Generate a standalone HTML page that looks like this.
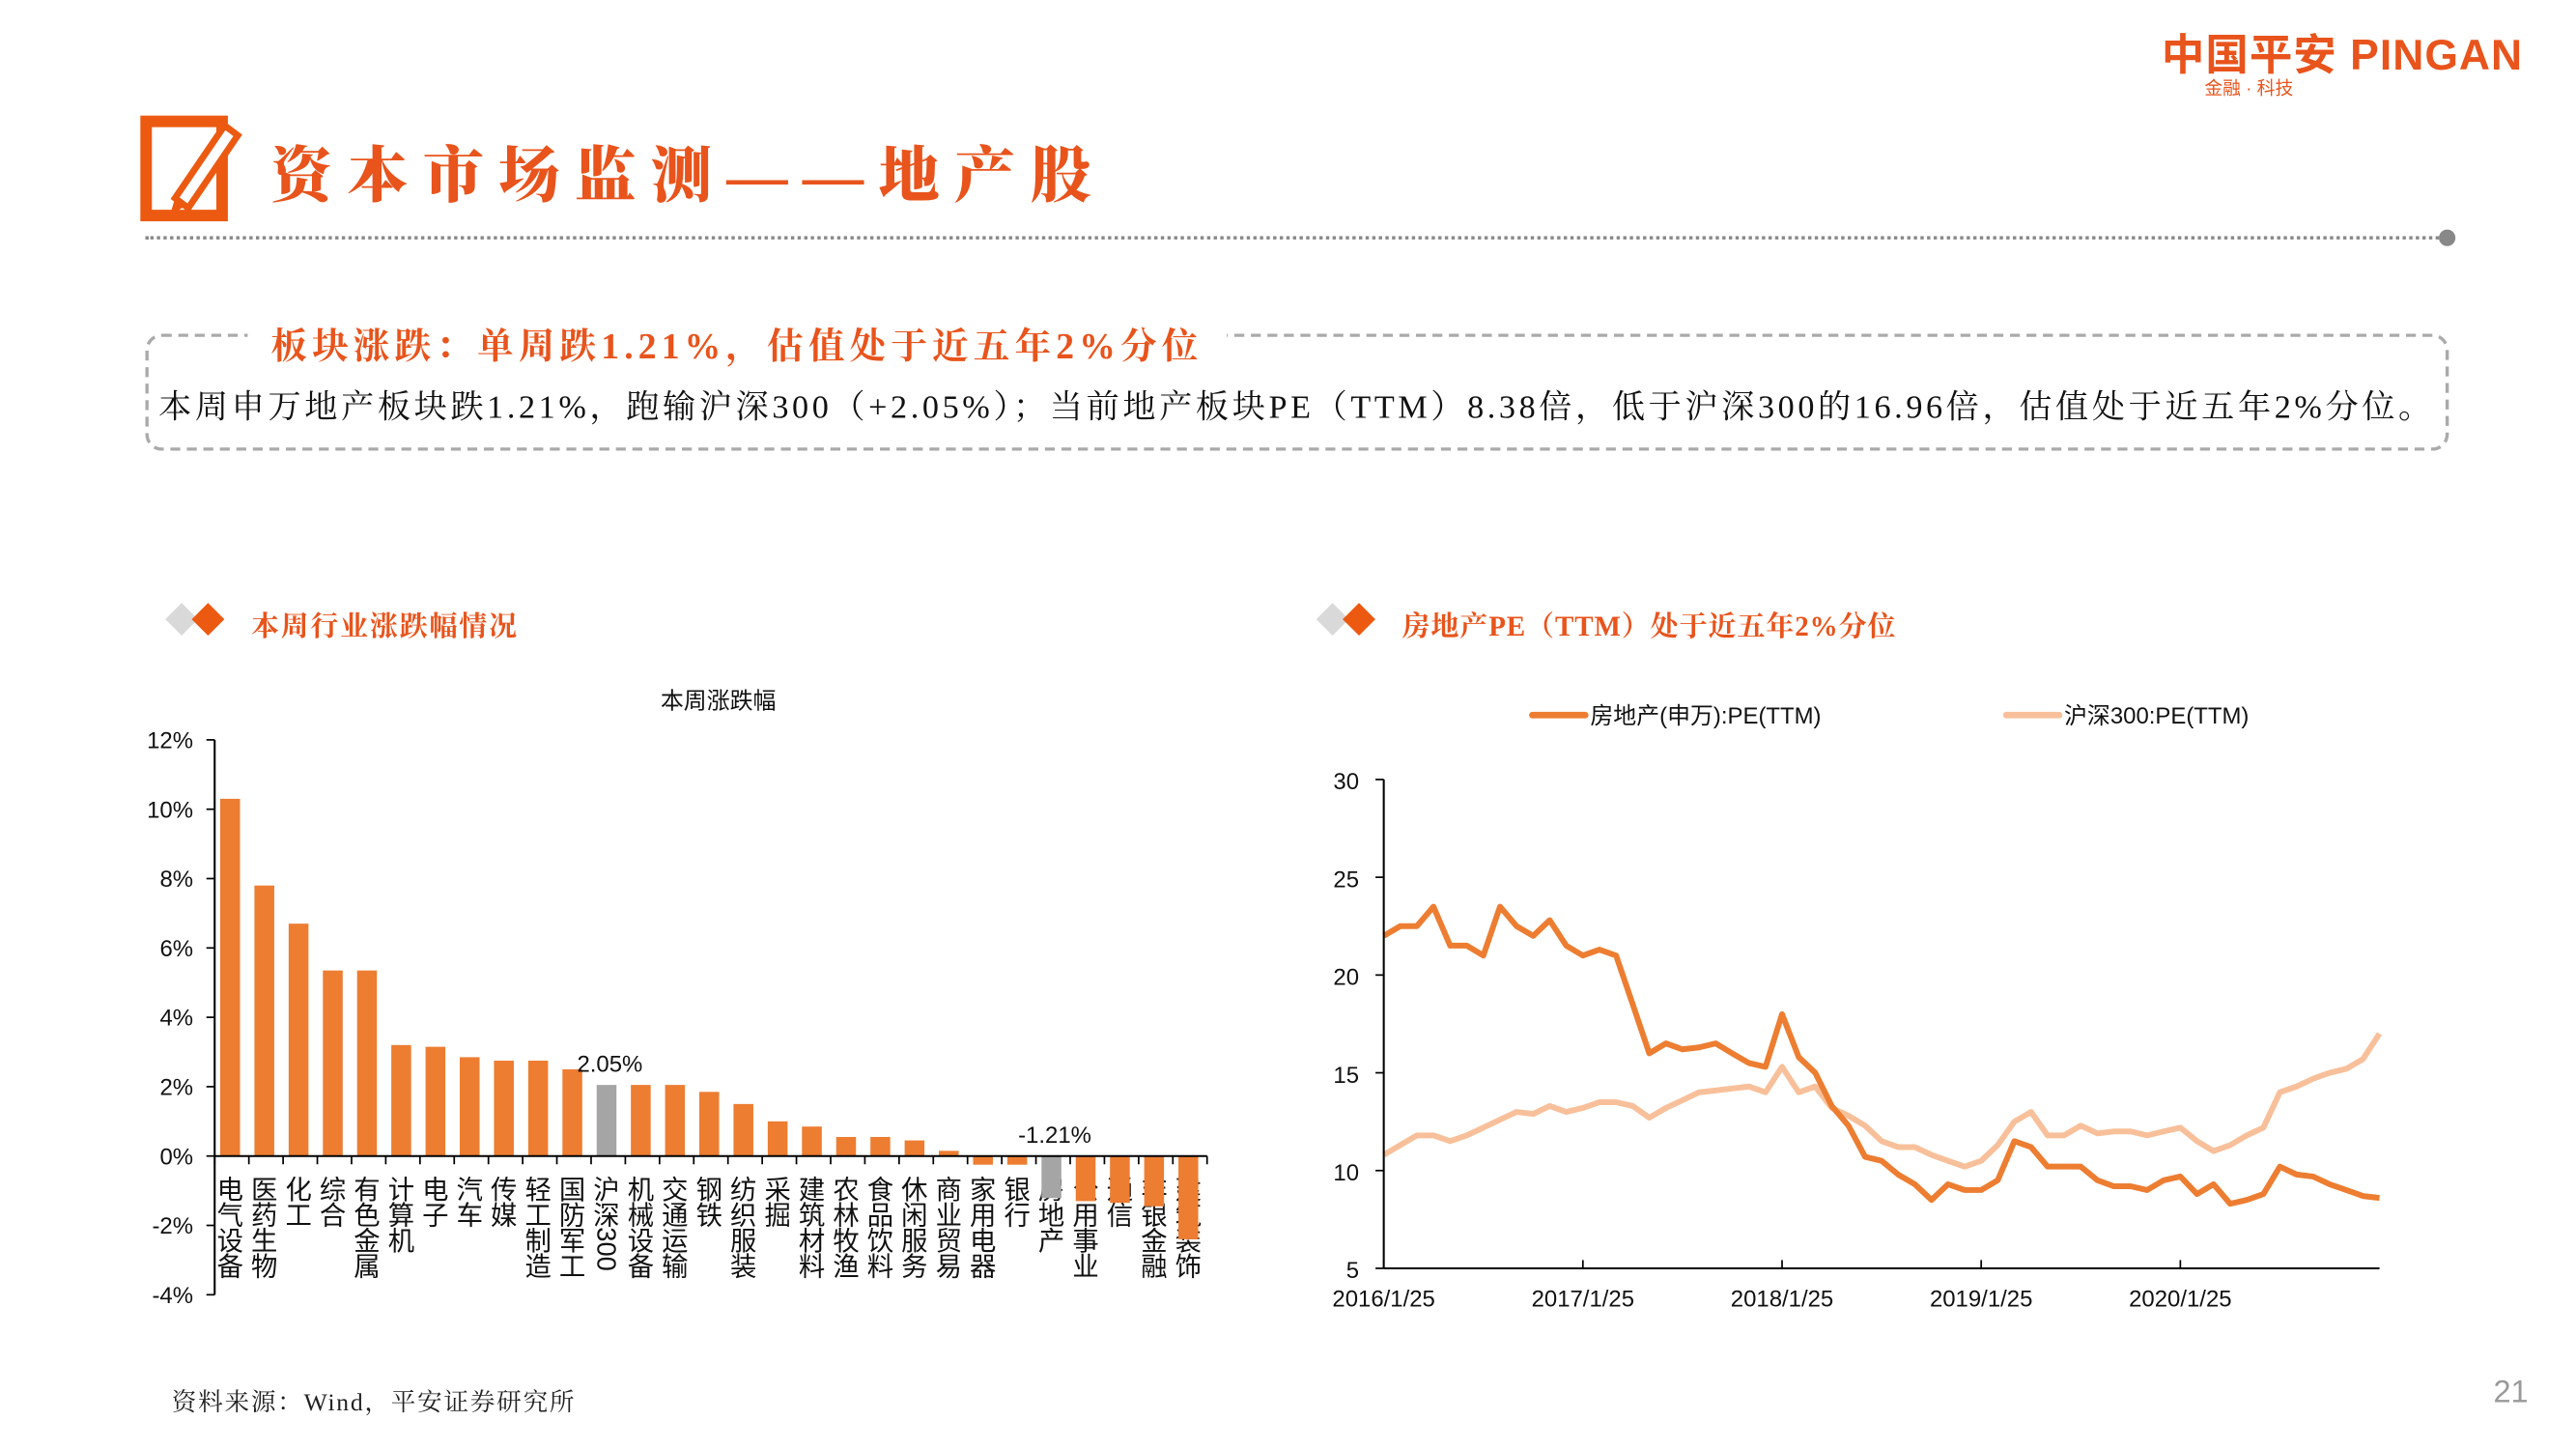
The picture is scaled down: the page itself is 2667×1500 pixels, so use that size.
<!DOCTYPE html>
<html><head><meta charset="utf-8">
<style>
html,body{margin:0;padding:0;background:#fff;width:2667px;height:1500px;overflow:hidden}
#wrap{position:absolute;left:0;top:0;width:1560px;height:877px;transform:scale(1.7096);transform-origin:0 0;font-family:"Liberation Sans","Noto Sans CJK SC",sans-serif}
.abs{position:absolute;white-space:nowrap}
.serif{font-family:"Liberation Serif","Noto Serif CJK SC",serif}
</style></head><body>
<div id="wrap">
  <div class="abs" style="left:1309px;top:13px;font-size:26px;font-weight:bold;color:#e8541c;letter-spacing:0.6px">中国平安 PINGAN</div>
  <div class="abs" style="left:1335px;top:45px;font-size:11px;color:#e8541c">金融 · 科技</div>

  <svg class="abs" style="left:84px;top:68px" width="66" height="68">
    <rect x="4.5" y="5.5" width="46" height="57" fill="none" stroke="#ec5a12" stroke-width="7"/>
    <path d="M22 52 L52 8 L60 14 L30 58 Z" fill="#fff" stroke="#ec5a12" stroke-width="4"/>
    <path d="M22 52 L19 62 L28 57" fill="#ec5a12"/>
  </svg>
  <div class="abs serif" style="left:164px;top:76px;font-size:37px;font-weight:900;color:#e8541c;letter-spacing:9px">资本市场监测——地产股</div>
  <div class="abs" style="left:88px;top:143px;width:1392px;border-top:2px dotted #888"></div>
  <div class="abs" style="left:1477px;top:139px;width:10px;height:10px;border-radius:50%;background:#888"></div>

  <div class="abs" style="left:88px;top:202px;width:1391px;height:67px;border:2px dashed #aaa;border-radius:10px"></div>
  <div class="abs serif" style="left:150px;top:193px;padding:0 14px;background:#fff;font-size:22px;font-weight:bold;color:#e8541c;letter-spacing:3px">板块涨跌：单周跌1.21%，估值处于近五年2%分位</div>
  <div class="abs serif" style="left:96px;top:230px;font-size:20px;color:#111;letter-spacing:2.1px">本周申万地产板块跌1.21%，跑输沪深300（+2.05%）；当前地产板块PE（TTM）8.38倍，低于沪深300的16.96倍，估值处于近五年2%分位。</div>

  <svg class="abs" style="left:98px;top:363px" width="46" height="24">
    <rect x="5" y="5" width="14" height="14" transform="rotate(45 12 12)" fill="#d9d9d9"/>
    <rect x="21" y="5" width="14" height="14" transform="rotate(45 28 12)" fill="#ec5a12"/>
  </svg>
  <div class="abs serif" style="left:152px;top:365px;font-size:17px;font-weight:bold;color:#e8541c;letter-spacing:1px">本周行业涨跌幅情况</div>
  <svg class="abs" style="left:795px;top:363px" width="46" height="24">
    <rect x="5" y="5" width="14" height="14" transform="rotate(45 12 12)" fill="#d9d9d9"/>
    <rect x="21" y="5" width="14" height="14" transform="rotate(45 28 12)" fill="#ec5a12"/>
  </svg>
  <div class="abs serif" style="left:849px;top:365px;font-size:17px;font-weight:bold;color:#e8541c;letter-spacing:0.5px">房地产PE（TTM）处于近五年2%分位</div>

  <svg id="bar" class="abs" style="left:0;top:0" width="780" height="877"></svg>
  <svg id="line" class="abs" style="left:0;top:0" width="1560" height="877"></svg>

  <div class="abs serif" style="left:104px;top:838px;font-size:15px;color:#222;letter-spacing:1px">资料来源：Wind，平安证券研究所</div>
  <div class="abs" style="left:1510px;top:833px;font-size:19px;color:#999">21</div>
</div>
<script>
const categories=["电气设备","医药生物","化工","综合","有色金属","计算机","电子","汽车","传媒","轻工制造","国防军工","沪深300","机械设备","交通运输","钢铁","纺织服装","采掘","建筑材料","农林牧渔","食品饮料","休闲服务","商业贸易","家用电器","银行","房地产","公用事业","通信","非银金融","建筑装饰"];
const changes=[10.3,7.8,6.7,5.35,5.35,3.2,3.15,2.85,2.75,2.75,2.5,2.05,2.05,2.05,1.85,1.5,1.0,0.85,0.55,0.55,0.45,0.15,-0.25,-0.25,-1.21,-1.3,-1.35,-1.45,-2.4];
const highlighted=["沪深300","房地产"];
const barTicks=[12,10,8,6,4,2,0,-2,-4];
const months=[];for(let i=0;i<61;i++)months.push(i);
const dates=["2016/1/25","2017/1/25","2018/1/25","2019/1/25","2020/1/25"];
const dateTickMonths=[0,12,24,36,48];
const realEstatePE=[22,22.5,22.5,23.5,21.5,21.5,21,23.5,22.5,22,22.8,21.5,21,21.3,21,18.5,16,16.5,16.2,16.3,16.5,16,15.5,15.3,18,15.8,15,13.3,12.3,10.7,10.5,9.8,9.3,8.5,9.3,9,9,9.5,11.5,11.2,10.2,10.2,10.2,9.5,9.2,9.2,9,9.5,9.7,8.8,9.3,8.3,8.5,8.8,10.2,9.8,9.7,9.3,9,8.7,8.6];
const hs300PE=[10.8,11.3,11.8,11.8,11.5,11.8,12.2,12.6,13,12.9,13.3,13,13.2,13.5,13.5,13.3,12.7,13.2,13.6,14,14.1,14.2,14.3,14,15.3,14,14.3,13.2,12.8,12.3,11.5,11.2,11.2,10.8,10.5,10.2,10.5,11.3,12.5,13,11.8,11.8,12.3,11.9,12,12,11.8,12,12.2,11.5,11,11.3,11.8,12.2,14,14.3,14.7,15,15.2,15.7,17];
const lineTicks=[30,25,20,15,10,5];
const NS="http://www.w3.org/2000/svg";
function mk(p,tag,at){const e=document.createElementNS(NS,tag);for(const k in at)e.setAttribute(k,at[k]);p.appendChild(e);return e;}
// bar chart
const bar=document.getElementById('bar');
const band=601/categories.length;
const by=v=>700-(v*21);
const bx=i=>130+band/2+i*band-1;
let t=mk(bar,'text',{x:435,y:429,'font-size':14,'text-anchor':'middle',fill:'#111'});t.textContent='本周涨跌幅';


barTicks.forEach(v=>{
  const l=mk(bar,'text',{x:117,y:by(v)+5,'font-size':14,'text-anchor':'end',fill:'#111'});l.textContent=v+'%';
  
  
  const tk=mk(bar,'line',{x1:125,x2:130,y1:by(v),y2:by(v),stroke:'#000'});
  
  
});
categories.forEach((c,i)=>{
  const g=mk(bar,'g',{});
  
  
  const m=c.match(/^(\D*)(\d+)$/);
  const chars=m?[...m[1]]:[...c];
  chars.forEach((ch,k)=>{const s=mk(g,'text',{x:bx(i),y:726+k*15.5,'font-size':16,'text-anchor':'middle',fill:'#111'});s.textContent=ch;});
  if(m){
    const y0=712+chars.length*15.5;
    const s=mk(g,'text',{x:0,y:0,'font-size':16,fill:'#111',transform:`translate(${bx(i)-5.5},${y0}) rotate(90)`});s.textContent=m[2];
  }
});
categories.forEach((c,i)=>{
  const v=changes[i];
  const r=mk(bar,'rect',{x:bx(i)-6,y:Math.min(by(v),by(0)),width:12,height:Math.abs(by(v)-by(0)),fill:highlighted.includes(c)?'#a5a5a5':'#ed7d31'});
  
  
  if(highlighted.includes(c)){
    const l=mk(bar,'text',{x:bx(i)+2,y:(v>0?by(v):by(0))-8,'font-size':14,'text-anchor':'middle',fill:'#111'});l.textContent=v.toFixed(2)+'%';
    
    
  }
});
let ax=mk(bar,'line',{x1:130,x2:130,y1:by(12),y2:by(-4),stroke:'#000','stroke-width':1.2});


ax=mk(bar,'line',{x1:130,x2:731,y1:by(0),y2:by(0),stroke:'#000','stroke-width':1.2});


for(let i=0;i<=categories.length;i++){const tk=mk(bar,'line',{x1:130+i*band,x2:130+i*band,y1:700,y2:705,stroke:'#000'});
  
  }
// line chart
const line=document.getElementById('line');
const lx=m=>838+m*10.05;
const ly=v=>472+(30-v)*11.84;
lineTicks.forEach(v=>{
  const l=mk(line,'text',{x:823,y:ly(v)+6,'font-size':14,'text-anchor':'end',fill:'#111'});l.textContent=v;
  
  
  const tk=mk(line,'line',{x1:833,x2:838,y1:ly(v),y2:ly(v),stroke:'#000'});
  
  
});
dates.forEach((d,i)=>{
  const l=mk(line,'text',{x:lx(dateTickMonths[i]),y:791,'font-size':14,'text-anchor':'middle',fill:'#111'});l.textContent=d;
  
  
  const tk=mk(line,'line',{x1:lx(dateTickMonths[i]),x2:lx(dateTickMonths[i]),y1:763,y2:768,stroke:'#000'});
  
  
});
function path(arr){return arr.map((v,i)=>(i?'L':'M')+lx(months[i]).toFixed(1)+' '+ly(v).toFixed(1)).join(' ');}
let p=mk(line,'path',{d:path(hs300PE),fill:'none',stroke:'#f8c09a','stroke-width':3.5,'stroke-linejoin':'round'});


p=mk(line,'path',{d:path(realEstatePE),fill:'none',stroke:'#ed7d31','stroke-width':3.5,'stroke-linejoin':'round'});


ax=mk(line,'line',{x1:838,x2:838,y1:472,y2:768,stroke:'#000','stroke-width':1.2});


ax=mk(line,'line',{x1:838,x2:1441,y1:768,y2:768,stroke:'#000','stroke-width':1.2});


[[928,'#ed7d31','房地产(申万):PE(TTM)'],[1215,'#f8c09a','沪深300:PE(TTM)']].forEach(([x,c,txt])=>{
  const sw=mk(line,'line',{x1:x,x2:x+32,y1:433,y2:433,stroke:c,'stroke-width':4,'stroke-linecap':'round'});
  
  
  const l=mk(line,'text',{x:x+35,y:438,'font-size':14,fill:'#111'});l.textContent=txt;
  
  
});
</script>
</body></html>
